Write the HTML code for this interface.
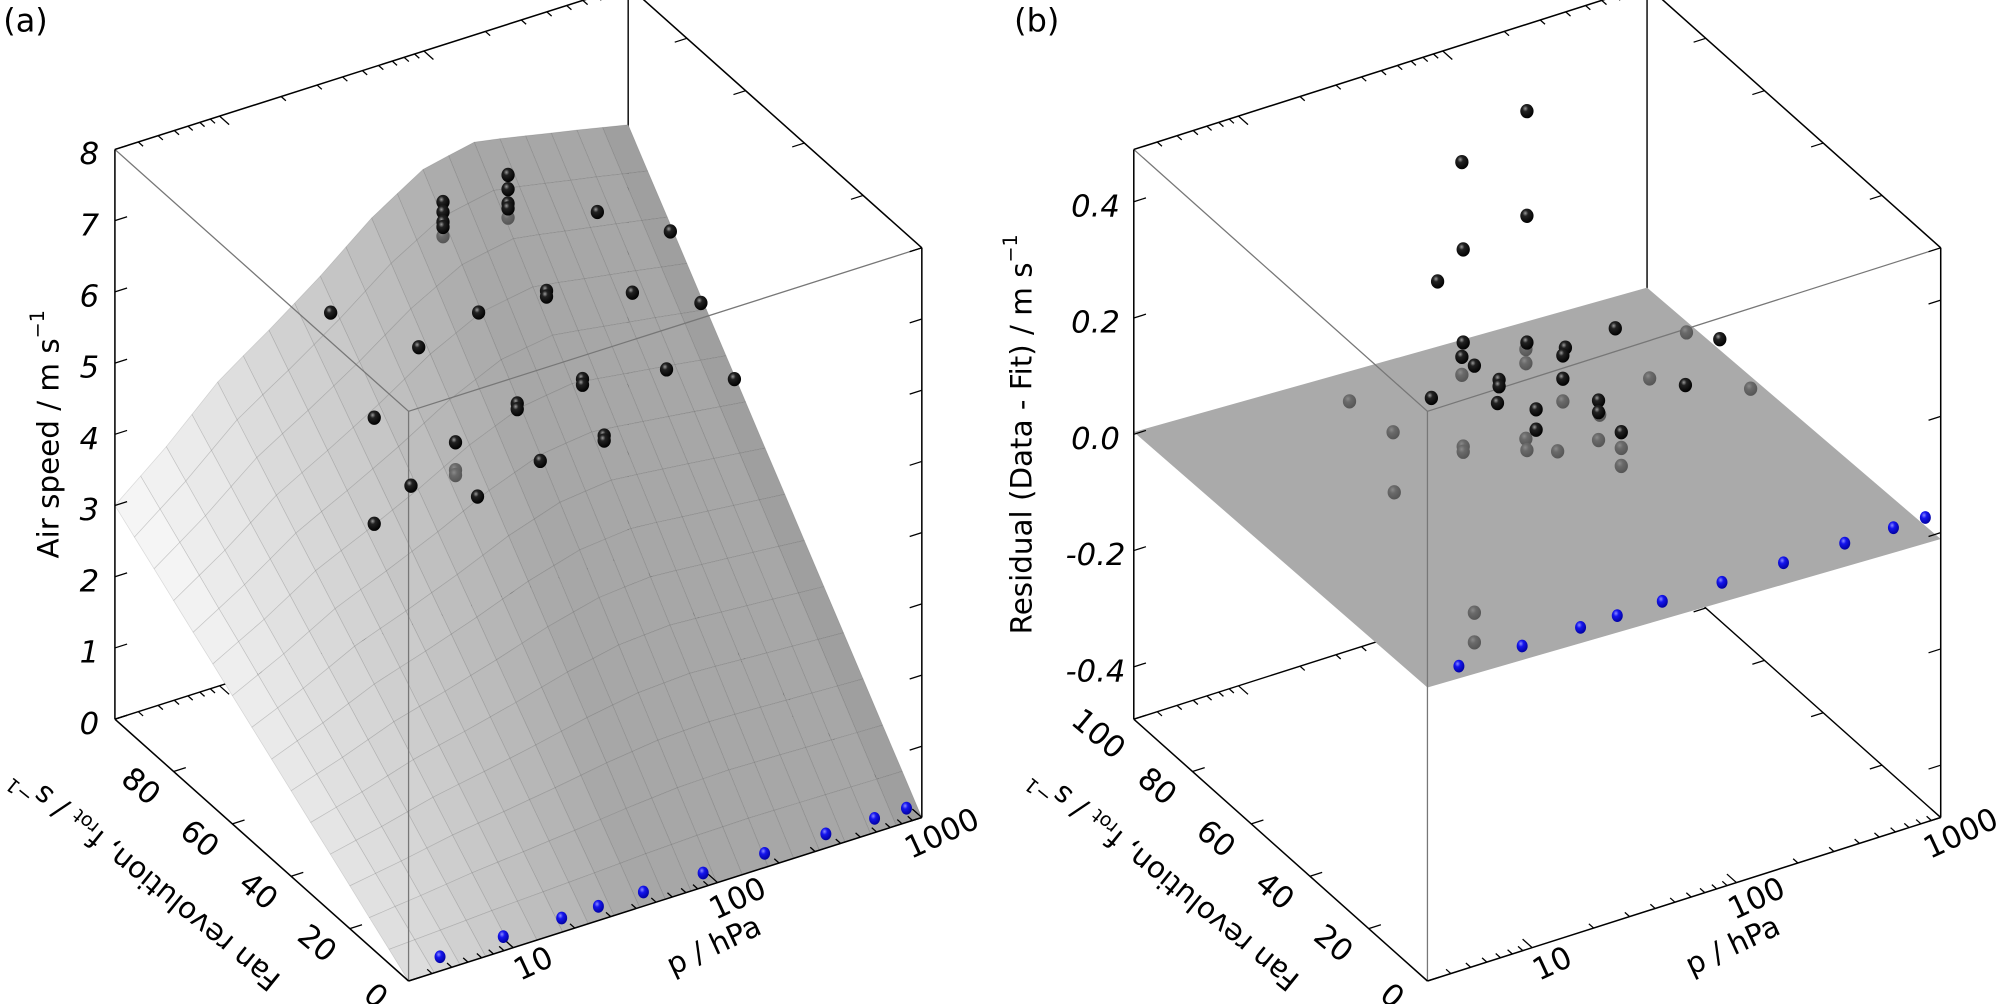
<!DOCTYPE html>
<html><head><meta charset="utf-8"><style>
html,body{margin:0;padding:0;background:#fff;}
svg{display:block;}
text{font-family:"DejaVu Sans","Liberation Sans",sans-serif;}
</style></head><body>
<svg id="chart" width="2002" height="1004" viewBox="0 0 1568 786" preserveAspectRatio="none" xmlns="http://www.w3.org/2000/svg">
<defs>
<radialGradient id="gBlack" cx="0.38" cy="0.32" r="0.7"><stop offset="0" stop-color="#9a9a9a"/><stop offset="0.3" stop-color="#222"/><stop offset="1" stop-color="#000"/></radialGradient>
<radialGradient id="gGrey" cx="0.38" cy="0.32" r="0.7"><stop offset="0" stop-color="#8a8a8a"/><stop offset="0.35" stop-color="#6a6a6a"/><stop offset="1" stop-color="#555"/></radialGradient>
<radialGradient id="gBlue" cx="0.38" cy="0.32" r="0.7"><stop offset="0" stop-color="#8a8aff"/><stop offset="0.35" stop-color="#1515ee"/><stop offset="1" stop-color="#0000a0"/></radialGradient>
</defs>
<g id="layer"></g>
</svg>
<script>
// ---------- data ----------
const surfPressure = [3.07, 5.5, 10, 18, 31, 56, 100, 180, 320, 575, 1000];
const surfSpeedF100 = [3.0, 3.6, 4.3, 4.8, 5.3, 5.9, 6.35, 6.5, 6.35, 6.2, 6.05];
const aPressure = [9.3,15.2,15.2,23.0,25.1,33.0,33.0,33.0,33.0,33.0,38.0,38.0,38.0,48.7,49.3,68.7,68.7,68.7,68.7,68.7,76.2,76.2,98.8,106,106,159,159,188,203,203,279,410,428,604,881];
const aFan = [60,60,60,60,60,60,60,60,60,60,60,60,60,60,60,60,60,60,60,60,60,60,60,60,60,60,60,60,60,60,60,60,60,60,60];
const aSpeed = [6.74,5.07,3.58,3.95,5.86,7.79,7.65,7.51,7.44,7.31,4.36,3.97,3.90,3.50,6.08,7.88,7.68,7.48,7.41,7.28,4.63,4.55,3.72,6.08,6.00,4.68,4.60,6.96,3.79,3.72,5.67,4.44,6.36,5.22,4.00];
const aHidden = [0,0,0,0,0,0,0,0,0,1,0,1,1,0,0,0,0,0,0,1,0,0,0,0,0,0,0,0,0,0,0,0,0,0,0];
const bluePressure = [5.0,10.2,19.7,29.8,49.5,97,194,387,670,960];
const blueFan = [4,4,4,4,4,4,4,4,4,4];
const blueSpeed = [0,0,0,0,0,0,0,0,0,0];
const blueResid = [0.01,0.01,0.01,0.01,0.01,0.01,0.01,0.01,0.01,0.01];
const bPressure = [33.0,68.7,68.7,33.5,25.1,33.5,33.0,38.0,33.0,23.4,9.3,15.2,15.4,33.5,33.5,50.2,50.2,49.3,68.7,67.9,67.9,76.2,76.2,67.9,68.7,97.1,106,103,103,103,154,154,156,154,186,199,199,199,274,415,410,604,855,38.0,38.0];
const bFan = [60,60,60,60,60,60,60,60,60,60,60,60,60,60,60,60,60,60,60,60,60,60,60,60,60,60,60,60,60,60,60,60,60,60,60,60,60,60,60,60,60,60,60,60,60];
const bResid = [0.533,0.585,0.405,0.382,0.341,0.222,0.198,0.176,0.167,0.144,0.183,0.106,0.002,0.043,0.034,0.138,0.127,0.099,0.187,0.176,0.152,0.067,0.032,0.022,0.002,-0.017,0.157,0.145,0.105,0.066,0.048,0.028,0.023,-0.020,0.163,-0.019,-0.046,-0.077,0.058,0.117,0.027,0.087,-0.015,-0.249,-0.300];
const bHidden = [0,0,0,0,0,0,0,0,1,0,1,1,1,1,1,0,0,0,0,1,1,0,0,1,1,1,0,0,0,1,0,0,1,1,0,0,1,1,1,1,0,0,1,1,1];
const planeResid = [0.015, -0.011, -0.029, 0.004];
const zTicksA = [0,1,2,3,4,5,6,7,8];
const zTicksB = [-0.4,-0.2,0.0,0.2,0.4];
const zTickLabelsB = ["-0.4","-0.2","0.0","0.2","0.4"];
const fTicks = [0,20,40,60,80,100];
const pMajor = [10,100,1000];
const pMajorLabels = ["10","100","1000"];

// ---------- geometry ----------
const NS = "http://www.w3.org/2000/svg";
const L = document.getElementById('layer');
const LMIN = 0.4875, LMAX = 3.0;
const DU = [402,-128], DV = [-230,-205], H = 446;
function makeProj(ox, oy, zmin, zmax){
  return function(p, f, z){
    const u = (Math.log10(p) - LMIN) / (LMAX - LMIN);
    const v = f / 100;
    const w = (z - zmin) / (zmax - zmin);
    return [ox + DU[0]*u + DV[0]*v, oy + DU[1]*u + DV[1]*v - H*w];
  };
}
const projA = makeProj(320, 768, 0, 8);
const projB = makeProj(1118, 768, -0.49, 0.49);
const PMIN = Math.pow(10, LMIN), PMAX = 1000;

function el(tag, attrs, parent){
  const e = document.createElementNS(NS, tag);
  for (const k in attrs) e.setAttribute(k, attrs[k]);
  (parent || L).appendChild(e);
  return e;
}
function line(a, b, color, w, name){
  const e = el('line', {x1:a[0], y1:a[1], x2:b[0], y2:b[1], stroke:color, 'stroke-width':w});
  
  
  return e;
}
function txt(x, y, s, size, name, extra){
  const e = el('text', Object.assign({x:x, y:y, 'font-size':size, 'text-anchor':'middle', 'dominant-baseline':'central', fill:'#000'}, extra || {}));
  e.textContent = s;
  
  
  return e;
}
function unit(v){ const n = Math.hypot(v[0], v[1]); return [v[0]/n, v[1]/n]; }
function tick(pt, dir, len, name){
  const d = unit(dir);
  return line(pt, [pt[0]+d[0]*len, pt[1]+d[1]*len], '#000', 1, name);
}
const minorP = [];
for (let d = 1; d <= 100; d *= 10) for (let m = 2; m <= 9; m++) { const v = m*d; if (v >= PMIN && v < PMAX) minorP.push(v); }

function drawBox(proj, zmin, zmax, side){
  const c = proj;
  line(c(PMIN,100,zmin), c(PMAX,100,zmin), '#000', 1.1, side+'-back-bottom-p-edge');
  line(c(PMAX,100,zmin), c(PMAX,0,zmin), '#000', 1.1, side+'-back-bottom-f-edge');
  line(c(PMAX,100,zmin), c(PMAX,100,zmax), '#000', 1.1, side+'-back-vertical-edge');
  pMajor.concat(minorP).forEach(p => tick(c(p,100,zmin), [-DV[0],-DV[1]], pMajor.includes(p)?10:5, side+'-back-bottom-p-tick'));
  fTicks.forEach(f => tick(c(PMAX,f,zmin), [-DU[0],-DU[1]], 10, side+'-back-bottom-f-tick'));
}
function drawFront(proj, zmin, zmax, zticks, side){
  const c = proj;
  line(c(PMIN,100,zmax), c(PMIN,0,zmax), '#777', 1, side+'-front-top-f-edge');
  line(c(PMIN,0,zmax), c(PMAX,0,zmax), '#777', 1, side+'-front-top-p-edge');
  line(c(PMIN,0,zmax), c(PMIN,0,zmin), '#777', 1, side+'-front-vertical-edge');
  line(c(PMIN,100,zmin), c(PMIN,100,zmax), '#000', 1.2, side+'-z-axis-line');
  line(c(PMAX,0,zmin), c(PMAX,0,zmax), '#000', 1.2, side+'-right-vertical-edge');
  line(c(PMIN,100,zmax), c(PMAX,100,zmax), '#000', 1.2, side+'-top-back-p-edge');
  line(c(PMAX,100,zmax), c(PMAX,0,zmax), '#000', 1.2, side+'-top-back-f-edge');
  line(c(PMIN,0,zmin), c(PMAX,0,zmin), '#000', 1.2, side+'-p-axis-line');
  line(c(PMIN,0,zmin), c(PMIN,100,zmin), '#000', 1.2, side+'-f-axis-line');
  pMajor.concat(minorP).forEach(p => {
    const len = pMajor.includes(p) ? 10 : 5;
    tick(c(p,0,zmin), [DV[0],DV[1]], len, side+'-p-tick');
    tick(c(p,100,zmax), [-DV[0],-DV[1]], len, side+'-top-p-tick');
  });
  fTicks.forEach(f => {
    tick(c(PMIN,f,zmin), [DU[0],DU[1]], 10, side+'-f-tick');
    tick(c(PMAX,f,zmax), [-DU[0],-DU[1]], 10, side+'-top-f-tick');
  });
  zticks.forEach(z => {
    tick(c(PMIN,100,z), [DU[0],DU[1]], 10, side+'-z-tick');
    tick(c(PMAX,0,z), [-DU[0],-DU[1]], 10, side+'-right-z-tick');
  });
}
function ball(pt, fill, rx, ry, name){
  const e = el('ellipse', {cx:pt[0], cy:pt[1], rx:rx, ry:ry, fill:fill});
  
  
}
function speedF100(p){
  const lp = Math.log10(p);
  for (let i = 0; i < surfPressure.length-1; i++){
    const a = Math.log10(surfPressure[i]), b = Math.log10(surfPressure[i+1]);
    if (lp <= b || i === surfPressure.length-2){
      const t = Math.max(0, Math.min(1, (lp-a)/(b-a)));
      return surfSpeedF100[i] + t*(surfSpeedF100[i+1]-surfSpeedF100[i]);
    }
  }
}

// ---------- panel (a) ----------
drawBox(projA, 0, 8, 'a');
const NU = 20, NV = 15;
const cells = [];
for (let i = 0; i < NU; i++) for (let j = 0; j < NV; j++) cells.push([i,j]);
cells.sort((A,B) => (B[0]+B[1]*1.3) - (A[0]+A[1]*1.3));
const surfG = el('g', {});


cells.forEach(([i,j]) => {
  const corner = (ii,jj) => {
    const p = Math.pow(10, LMIN + (LMAX-LMIN)*ii/NU);
    const f = 100*jj/NV;
    return projA(p, f, speedF100(p)*f/100);
  };
  const pts = [corner(i,j), corner(i+1,j), corner(i+1,j+1), corner(i,j+1)];
  const u = (i+0.5)/NU, v = (j+0.5)/NV;
  const s = Math.max(0, Math.min(1, (u - 0.05 + 0.22*(1-v))/0.62));
  let g = Math.round(245 - 78*s);
  if (i === NU-1) g -= 8;
  const e = el('polygon', {points: pts.map(q=>q[0].toFixed(1)+','+q[1].toFixed(1)).join(' '),
    fill:`rgb(${g},${g},${g})`, stroke:'rgba(0,0,0,0.12)', 'stroke-width':0.6, 'stroke-linejoin':'round'}, surfG);
  
  
});
drawFront(projA, 0, 8, zTicksA, 'a');
aPressure.forEach((p,k) => { if (aHidden[k]) ball(projA(p, aFan[k], aSpeed[k]), 'url(#gGrey)', 5.2, 5.6, 'data-point-hidden'); });
aPressure.forEach((p,k) => { if (!aHidden[k]) ball(projA(p, aFan[k], aSpeed[k]), 'url(#gBlack)', 5.2, 5.6, 'data-point'); });
bluePressure.forEach((p,k) => ball(projA(p, blueFan[k], blueSpeed[k]), 'url(#gBlue)', 4.3, 5.0, 'zero-fan-point'));
zTicksA.forEach(z => { const q = projA(PMIN,100,z); txt(q[0]-20, q[1]+4, String(z), 24, 'z-tick-label', {'font-style':'italic'}); });
fTicks.filter(f=>f<100).forEach(f => { const q = projA(PMIN,f,0); txt(q[0]-26, q[1]+12, String(f), 24, 'f-tick-label', {transform:`rotate(40 ${q[0]-26} ${q[1]+12})`}); });
pMajor.forEach((p,k) => { const q = projA(p,0,0); const x=q[0]+16, y=q[1]+13; txt(x, y, pMajorLabels[k], 24, 'p-tick-label', {transform:`rotate(-25 ${x} ${y})`}); });
txt(559, 740, 'p / hPa', 23, 'x-axis-title', {transform:'rotate(-25 559 740)'});
(function(){
  const t = txt(114, 688, '', 23, 'f-axis-title', {transform:'rotate(219 114 688)'});
  t.innerHTML = 'Fan revolution, f<tspan font-size="15" dy="5">rot</tspan><tspan dy="-5"> / s</tspan><tspan font-size="15" dy="-9">−1</tspan>';
})();
(function(){
  const t = txt(38, 340, '', 23, 'y-axis-title', {transform:'rotate(-90 38 340)'});
  t.innerHTML = 'Air speed / m s<tspan font-size="15" dy="-9">−1</tspan>';
})();
txt(20, 16, '(a)', 25, 'panel-label-a');

// ---------- panel (b) ----------
drawBox(projB, -0.49, 0.49, 'b');
(function(){
  const pts = [projB(PMIN,0,planeResid[0]), projB(PMAX,0,planeResid[1]), projB(PMAX,100,planeResid[2]), projB(PMIN,100,planeResid[3])];
  const e = el('polygon', {points: pts.map(q=>q.join(',')).join(' '), fill:'#aaaaaa'});
  
  
})();
drawFront(projB, -0.49, 0.49, zTicksB, 'b');
bPressure.forEach((p,k) => { if (bHidden[k]) ball(projB(p, bFan[k], bResid[k]), 'url(#gGrey)', 5.2, 5.6, 'residual-point-hidden'); });
bPressure.forEach((p,k) => { if (!bHidden[k]) ball(projB(p, bFan[k], bResid[k]), 'url(#gBlack)', 5.2, 5.6, 'residual-point'); });
bluePressure.forEach((p,k) => ball(projB(p, blueFan[k], blueResid[k]), 'url(#gBlue)', 4.3, 5.0, 'zero-fan-residual-point'));
zTicksB.forEach((z,k) => { const q = projB(PMIN,100,z); txt(q[0]-30, q[1]+4, zTickLabelsB[k], 24, 'z-tick-label-b', {'font-style':'italic'}); });
fTicks.forEach(f => { const q = projB(PMIN,f,-0.49); txt(q[0]-28, q[1]+12, String(f), 24, 'f-tick-label-b', {transform:`rotate(40 ${q[0]-28} ${q[1]+12})`}); });
pMajor.forEach((p,k) => { const q = projB(p,0,-0.49); const x=q[0]+16, y=q[1]+13; txt(x, y, pMajorLabels[k], 24, 'p-tick-label-b', {transform:`rotate(-25 ${x} ${y})`}); });
txt(1357, 740, 'p / hPa', 23, 'x-axis-title-b', {transform:'rotate(-25 1357 740)'});
(function(){
  const t = txt(912, 688, '', 23, 'f-axis-title-b', {transform:'rotate(219 912 688)'});
  t.innerHTML = 'Fan revolution, f<tspan font-size="15" dy="5">rot</tspan><tspan dy="-5"> / s</tspan><tspan font-size="15" dy="-9">−1</tspan>';
})();
(function(){
  const t = txt(800, 340, '', 23, 'y-axis-title-b', {transform:'rotate(-90 800 340)'});
  t.innerHTML = 'Residual (Data - Fit) / m s<tspan font-size="15" dy="-9">−1</tspan>';
})();
txt(812, 16, '(b)', 25, 'panel-label-b');
</script>
</body></html>
